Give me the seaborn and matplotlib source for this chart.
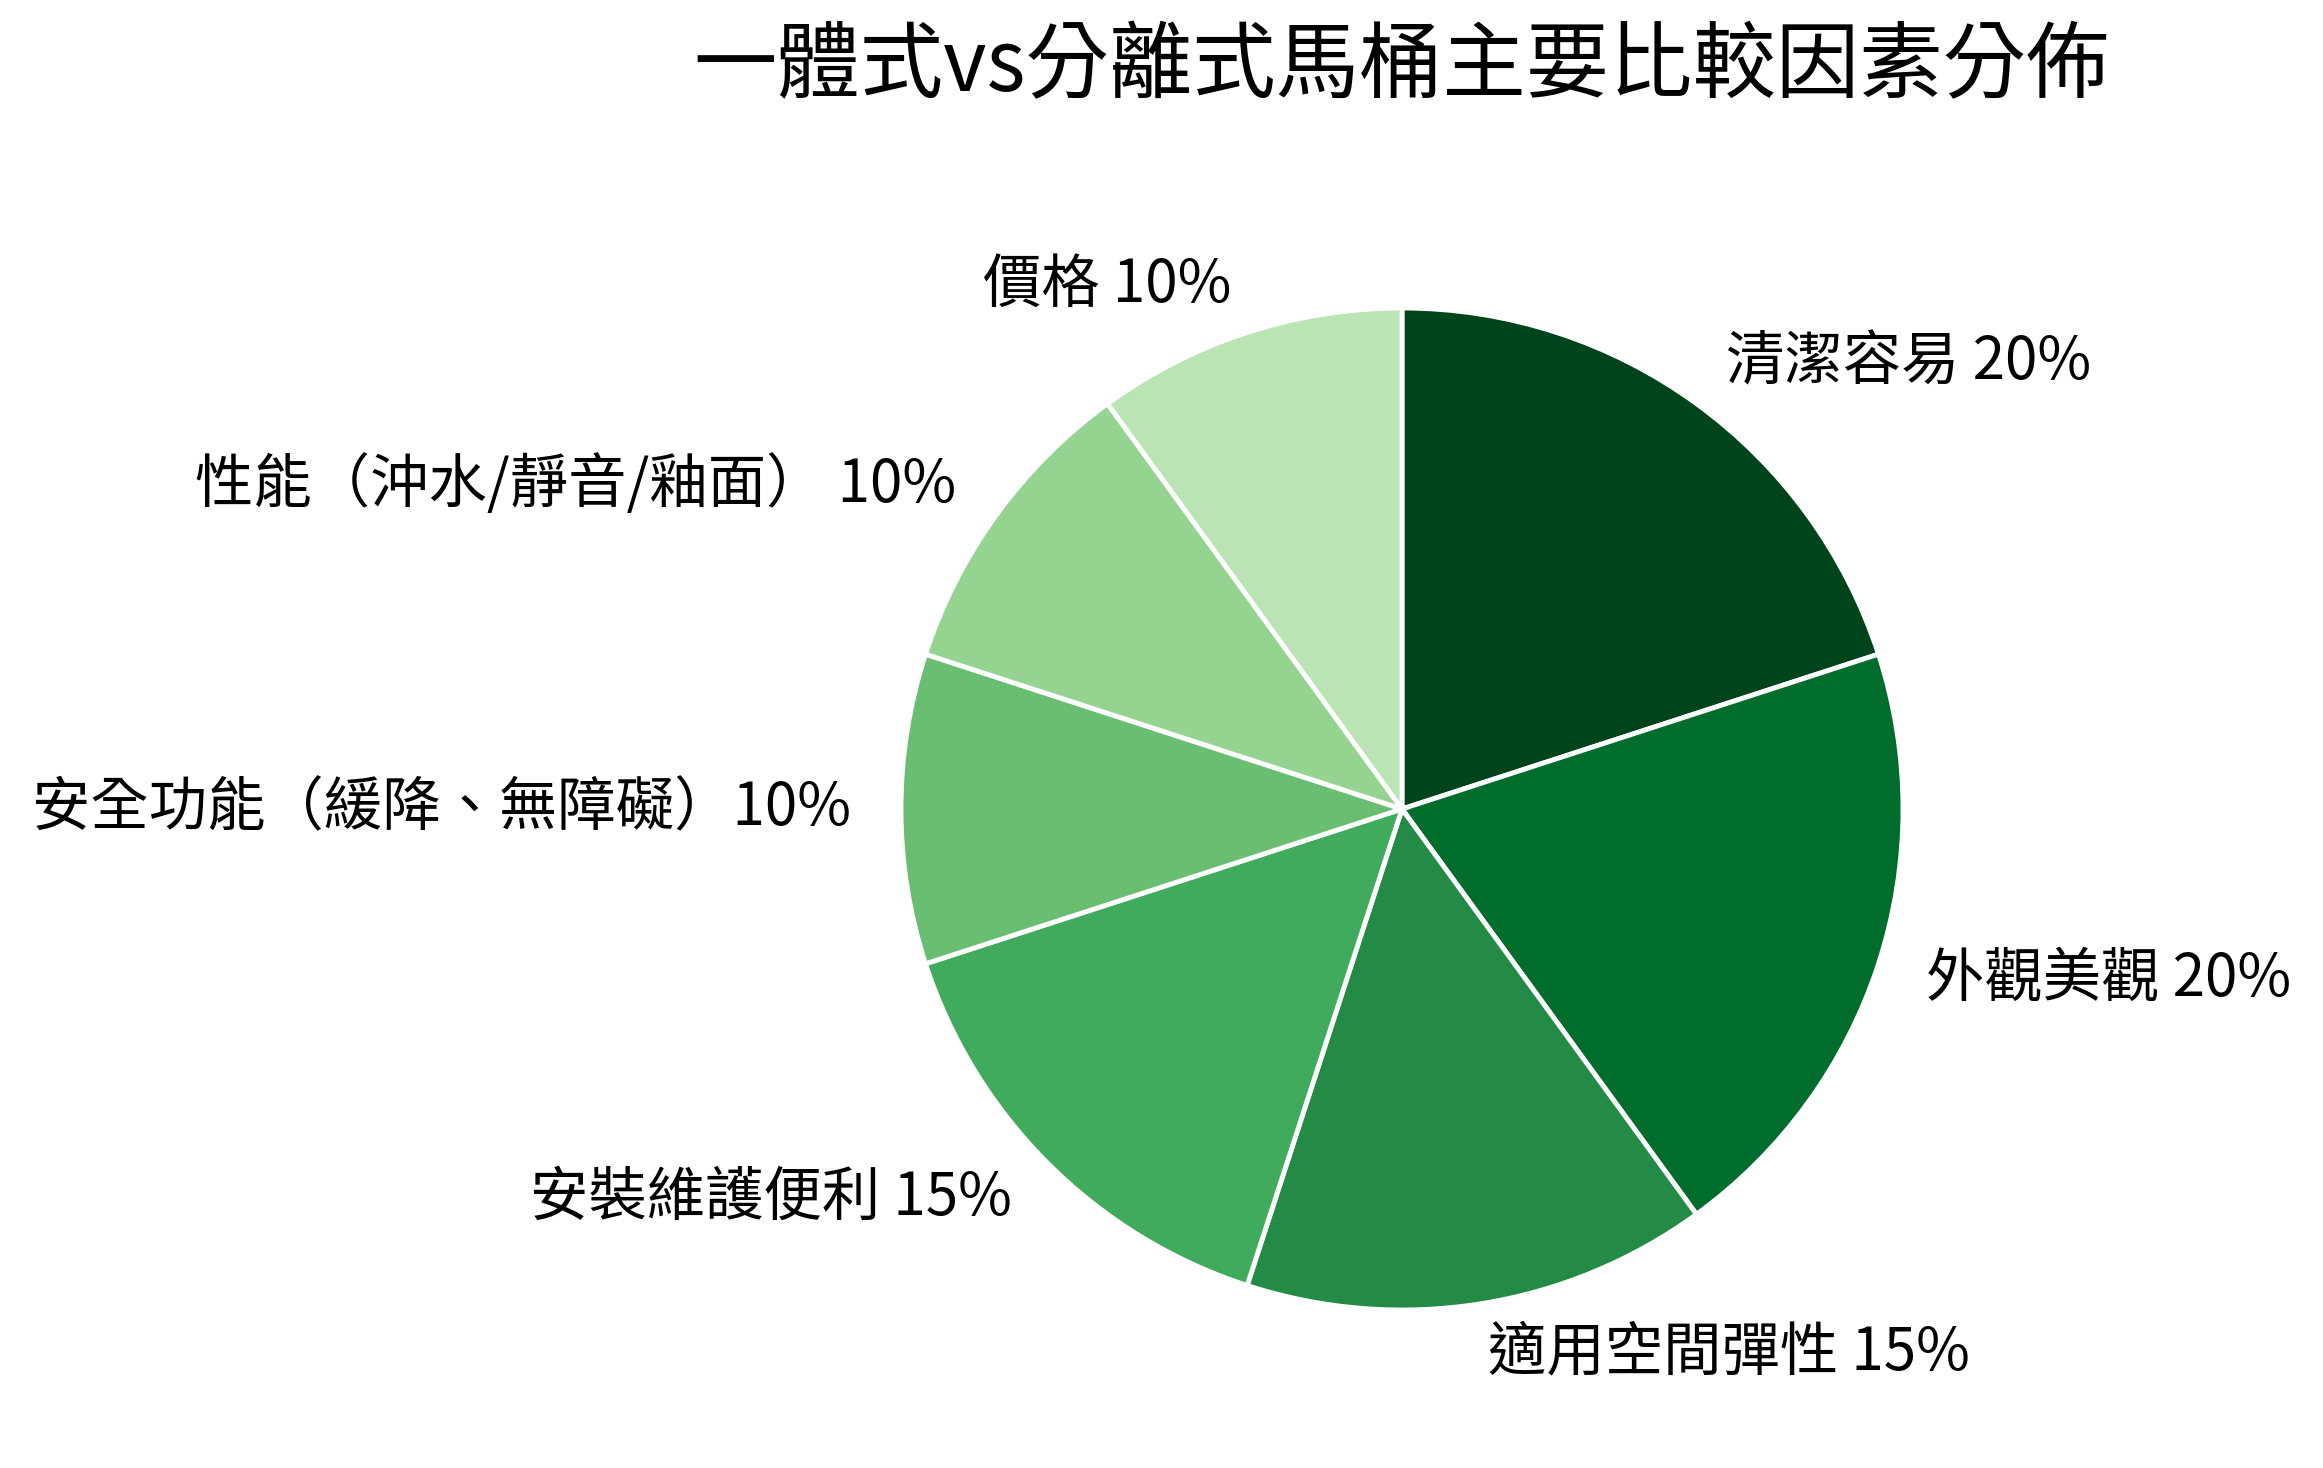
import matplotlib
matplotlib.use("Agg")
import matplotlib.pyplot as plt
import seaborn as sns

categories = ["清潔容易", "外觀美觀", "適用空間彈性", "安裝維護便利",
              "安全功能（緩降、無障礙）", "性能（沖水/靜音/釉面） ", "價格"]
values = [20, 20, 15, 15, 10, 10, 10]
colors = ["#00441b", "#006d2c", "#238b45", "#41ab5d", "#69be71", "#95d391", "#bae4b3"]
title = "一體式vs分離式馬桶主要比較因素分佈"

sns.set_theme(style="white")
plt.rcParams["font.family"] = ["Noto Sans CJK TC", "DejaVu Sans"]


def main():
    W, H = 2323, 1468
    fig = plt.figure(figsize=(W / 100, H / 100), dpi=100)
    cx, cy, r = 1402, 1468 - 809, 501
    ax = fig.add_axes([(cx - r) / W, (cy - r) / H, 2 * r / W, 2 * r / H])

    labels = [f"{c}{'' if c.endswith(' ') or c.endswith('）') else ' '}{v}%" for c, v in zip(categories, values)]
    ax.pie(values, labels=labels, colors=colors, startangle=90, counterclock=False,
           labeldistance=1.1, radius=1,
           wedgeprops=dict(edgecolor="white", linewidth=3.5),
           textprops=dict(fontsize=42, color="black"))
    ax.set_xlim(-1, 1)
    ax.set_ylim(-1, 1)
    ax.set_aspect("equal")
    ax.axis("off")

    fig.text(cx / W, 1 - 67 / H, title, ha="center", va="center", fontsize=60, color="black")
    fig.savefig("out.png", dpi=100)


if __name__ == "__main__":
    main()
